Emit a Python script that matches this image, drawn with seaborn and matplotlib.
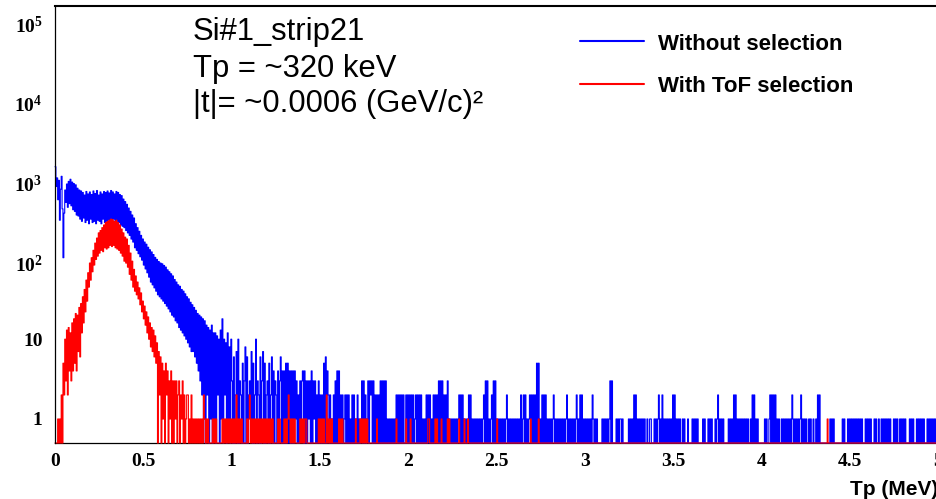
import numpy as np
import matplotlib
matplotlib.use("Agg")
import matplotlib.pyplot as plt
from matplotlib.lines import Line2D
from matplotlib.transforms import ScaledTranslation
from matplotlib.ticker import (FixedLocator, FixedFormatter, LogLocator,
                               MultipleLocator, NullFormatter, FuncFormatter)
import seaborn as sns

# Tp spectrum binning: 1000 channels of 5 keV between 0 and 5 MeV
TP_MIN, TP_MAX, N_BINS = 0.0, 5.0, 1000
Y_MIN, Y_MAX = 0.5, 1.5e5

# Counts per 5 keV channel, 0 - 1 MeV (200 channels)
blue_head = [
    1450, 820, 1050, 560, 980, 310, 760, 1100, 430, 105,
    380, 740, 520, 880, 450, 950, 500, 1010, 470, 930,
    420, 890, 400, 860, 360, 780, 350, 740, 320, 720,
    300, 690, 330, 640, 290, 710, 310, 660, 280, 700,
    320, 650, 290, 720, 300, 670, 280, 730, 310, 640,
    300, 700, 280, 660, 320, 710, 290, 690, 300, 720,
    310, 680, 290, 730, 300, 700, 320, 660, 280, 710,
    300, 690, 290, 650, 270, 630, 260, 570, 250, 530,
    230, 490, 215, 440, 200, 400, 180, 360, 165, 330,
    140, 280, 130, 250, 118, 225, 108, 200, 98, 180,
    85, 165, 76, 155, 68, 142, 60, 132, 52, 124,
    48, 115, 44, 106, 40, 100, 36, 94, 34, 90,
    32, 88, 30, 84, 28, 80, 26, 74, 24, 70,
    22, 66, 20, 62, 19, 56, 17, 52, 16, 48,
    14, 46, 13, 42, 12, 40, 11, 37, 10, 34,
    9, 32, 8, 29, 7, 27, 7, 25, 6, 23,
    5, 21, 4, 20, 3, 19, 2, 18, 1, 17,
    0, 15, 2, 14, 0, 13, 1, 15, 0, 12,
    1, 12, 0, 11, 2, 10, 0, 13, 1, 18,
    0, 10, 2, 9, 0, 12, 1, 8, 0, 10,
]
red_head = [
    0, 0, 0, 1, 0, 1, 0, 2, 0, 5,
    2, 10, 3, 13, 2, 14, 4, 12, 3, 16,
    4, 18, 5, 21, 4, 20, 7, 25, 6, 28,
    12, 34, 16, 42, 22, 55, 30, 68, 45, 90,
    55, 105, 70, 130, 85, 160, 100, 185, 110, 215,
    120, 230, 130, 250, 125, 270, 140, 290, 135, 300,
    140, 310, 150, 320, 145, 315, 150, 300, 140, 310,
    135, 290, 130, 270, 120, 240, 110, 215, 95, 190,
    90, 180, 80, 150, 65, 120, 55, 95, 45, 75,
    40, 62, 36, 52, 32, 44, 27, 38, 22, 30,
    18, 26, 15, 22, 12, 19, 10, 16, 8, 14,
    7, 13, 6, 11, 5, 9, 0, 7, 2, 6,
    0, 5, 1, 4, 0, 5, 2, 4, 0, 3,
    1, 4, 0, 3, 0, 3, 1, 3, 0, 2,
    3, 0, 2, 1, 3, 0, 2, 0, 1, 2,
    2, 0, 1, 0, 2, 0, 1, 0, 1, 0,
    1, 0, 1, 0, 1, 0, 1, 0, 2, 1,
    0, 1, 0, 1, 0, 0, 0, 0, 1, 0,
    1, 0, 1, 0, 0, 0, 0, 0, 0, 1,
    0, 1, 0, 1, 0, 1, 0, 1, 0, 1,
]

# Counts per channel above 1 MeV: one base-36 digit per channel,
# groups of 10 channels (50 keV), one row per 0.5 MeV
blue_tail_rows = [
    "3060270a03 2050380602 3170502a03 2060370502 3050260403 2040360404 0505040404 0413020313 4040303130 4031302030",
    "2020506042 0201020304 0402020120 2020102020 1020101303 0201303230 3020202030 3030301010 1010102020 2020200202",
    "0202020120 2020201010 2020201020 2020303030 2020301010 1010101202 0201010120 2010101010 1010120303 0101203030",
    "1010101010 1201010101 0101010201 2020101202 0202050501 0202020101 0101201010 1010101012 0101010101 2010202010",
    "1010101021 0101000001 0101010130 3000010101 1010000001 0101020201 0101010100 1001100010 1012010201 0101010102",
    "0201010100 1010001000 0101010100 0001010001 0101000101 2010101000 0010101020 2010101010 1010100102 0201010000",
    "0001010012 0202020101 0010101010 1010210101 0101201010 1001010010 0102020000 0000000101 0100000000 0101000101",
    "0101010101 0101000101 0101000101 0010010101 0101010001 0101001010 1010000101 0100010101 0101000101 0101010101",
]
red_tail_rows = [
    "0101020101 0100000101 2010101010 1010101010 1010101000 0010100001 0101210101 0100000101 0101100000 0000000010",
    "1010100201 0101000000 0101010000 0000000000 1000010101 0101000000 0000100000 0000000000 0000001000 0000000100",
    "0010000000 0000000000 0011000000 1010000100 0000101000 0000000100 0001000100 0000000000 0000000000 0000000000",
    "1000000000 0000000000 0000000000 0000000010 0000000100 0000000000 0000000000 0000000000 0000000000 0000000000",
    "0000000000 0000000000 0000000000 0000000000 0000000000 0000000000 0000000000 0000000000 0000000000 0000000000",
    "0000000000 0000000000 0000000000 0000000000 0000000000 0000000000 0000000000 0000000000 0000000000 0000000000",
    "0000000000 0000000000 0000000000 0000000000 0000000000 0000000000 0000000000 0000100000 0000000000 0000000000",
    "0000000000 0000000000 0000000000 0000000000 0000000000 0000000000 0000000000 0000000000 0000000000 0000000000",
]

series_labels = ["Without selection", "With ToF selection"]
series_colors = ["#0000ff", "#ff0000"]
info_lines = ["Si#1_strip21", "Tp = ~320 keV", "|t|= ~0.0006 (GeV/c)\u00b2"]
x_label = "Tp (MeV)"
y_tick_values = [1, 10, 100, 1e3, 1e4, 1e5]
y_tick_labels = ["1", "10", r"$\mathbf{10^{2}}$", r"$\mathbf{10^{3}}$",
                 r"$\mathbf{10^{4}}$", r"$\mathbf{10^{5}}$"]


def decode_rows(rows):
    return [int(ch, 36) for row in rows for ch in row.replace(" ", "")]


blue_counts = np.array(blue_head + decode_rows(blue_tail_rows), dtype=float)
red_counts = np.array(red_head + decode_rows(red_tail_rows), dtype=float)
assert blue_counts.size == N_BINS and red_counts.size == N_BINS

sns.set_style("white")
plt.rcParams.update({
    "font.family": ["Liberation Serif", "DejaVu Serif"],
    "font.weight": "bold",
    "mathtext.fontset": "custom",
    "mathtext.rm": "Liberation Serif:bold",
    "mathtext.bf": "Liberation Serif:bold",
    "mathtext.it": "Liberation Serif:bold",
    "axes.linewidth": 0.9,
    "text.color": "black",
    "axes.labelcolor": "black",
    "axes.edgecolor": "black",
    "xtick.color": "black",
    "ytick.color": "black",
    # keep every channel edge of the dense spectra
    "path.simplify": False,
})

W, H = 937, 499
fig = plt.figure(figsize=(W / 100, H / 100), dpi=100)
fig.patch.set_facecolor("white")
ax = fig.add_axes([55 / W, 56 / H, 883.5 / W, 437 / H])

for counts, color in zip([blue_counts, red_counts], series_colors):
    edges = np.linspace(TP_MIN, TP_MAX, N_BINS + 1)
    centers = 0.5 * (edges[:-1] + edges[1:])
    # empty channels rest on the frame floor, as in a ROOT log display
    shown = np.where(counts > 0, counts, Y_MIN)
    sns.histplot(x=centers, weights=shown, bins=N_BINS, binrange=(TP_MIN, TP_MAX),
                 element="step", fill=False, color=color, linewidth=0.8,
                 ax=ax, zorder=2, clip_on=False, snap=False)

ax.set_yscale("log")
ax.set_xlim(TP_MIN, TP_MAX)
ax.set_ylim(Y_MIN, Y_MAX)
ax.set_ylabel("")

ax.spines["bottom"].set_zorder(1)
ax.spines["right"].set_visible(False)
ax.spines["top"].set_linewidth(1.5)

ax.yaxis.set_major_locator(FixedLocator(y_tick_values))
ax.yaxis.set_major_formatter(FixedFormatter(y_tick_labels))
ax.yaxis.set_minor_locator(LogLocator(base=10, subs=np.arange(2, 10), numticks=30))
ax.yaxis.set_minor_formatter(NullFormatter())
ax.xaxis.set_major_locator(MultipleLocator(0.5))
ax.xaxis.set_minor_locator(MultipleLocator(0.1))
ax.xaxis.set_major_formatter(FuncFormatter(lambda v, p: f"{v:g}"))

ax.tick_params(axis="both", which="both", direction="in", colors="black",
               top=False, right=False, width=0.9, labelsize=14)
ax.tick_params(axis="y", which="major", length=20, pad=9)
ax.tick_params(axis="y", which="minor", length=10.8)
ax.tick_params(axis="x", which="major", length=9.4, pad=7)
ax.tick_params(axis="x", which="minor", length=4.7)

# power-of-ten labels sit with their mantissa just under the tick
fig.canvas.draw()
shift = ScaledTranslation(0, -4 / 100, fig.dpi_scale_trans)
for lab in ax.get_yticklabels():
    if "^" in lab.get_text():
        lab.set_transform(lab.get_transform() + shift)

ax.set_xlabel(x_label, fontsize=15, fontweight="bold", family="Liberation Sans")
ax.xaxis.set_label_coords(1.0, -(495 - 443) / 437)
ax.xaxis.label.set_horizontalalignment("right")
ax.xaxis.label.set_verticalalignment("baseline")

for text, base in zip(info_lines, [40, 77, 112]):
    fig.text(193 / W, 1 - base / H, text, fontsize=22.3, fontweight="normal",
             family="Liberation Sans", va="baseline", ha="left", color="black")

for label, color, line_y, base in zip(series_labels, series_colors, [41, 83.5], [50, 91.7]):
    fig.add_artist(Line2D([580 / W, 644 / W], [1 - line_y / H] * 2,
                          color=color, linewidth=1.5, transform=fig.transFigure))
    fig.text(658 / W, 1 - base / H, label, fontsize=16, fontweight="bold",
             family="Liberation Sans", va="baseline", ha="left", color="black")

fig.savefig("out.png", dpi=100, facecolor="white")
